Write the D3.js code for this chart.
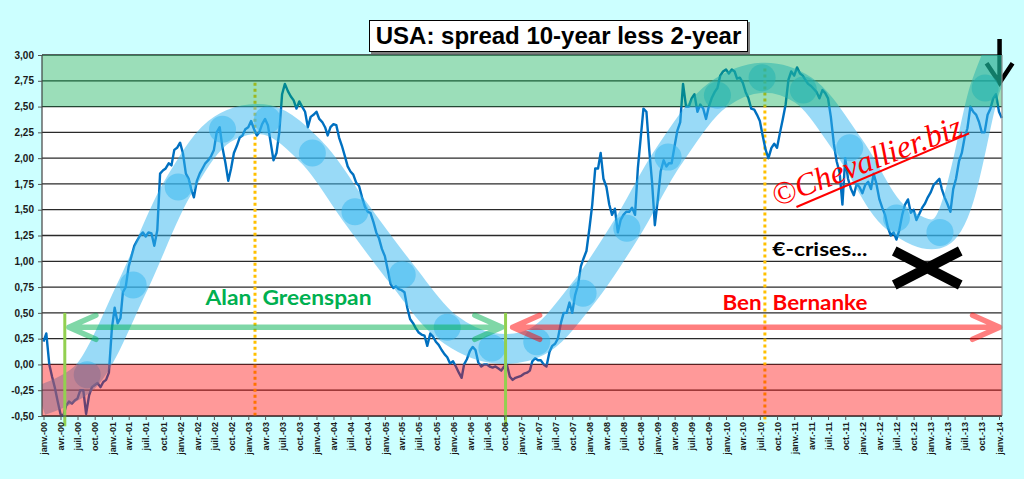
<!DOCTYPE html>
<html><head><meta charset="utf-8">
<script src="https://cdnjs.cloudflare.com/ajax/libs/d3/7.8.5/d3.min.js"></script>
<style>
html,body{margin:0;padding:0;background:#ccffff;}
svg{display:block;}
</style></head><body>
<svg id="chart" width="1024" height="479"></svg>
<script>
// ---------------- data ----------------
const title = "USA: spread 10-year less 2-year";
const monthLabels = ["janv.", "avr.", "juil.", "oct."];
const yTicks = [-0.5, -0.25, 0, 0.25, 0.5, 0.75, 1, 1.25, 1.5, 1.75, 2, 2.25, 2.5, 2.75, 3];
const years = [2000,2001,2002,2003,2004,2005,2006,2007,2008,2009,2010,2011,2012,2013,2014];
// semi-monthly readings (1st and 16th of each month), % points
const spread2000 = [0.22,0.30,0.00,-0.12,-0.22,-0.35,-0.48,-0.50,-0.40,-0.36,-0.38,-0.35,-0.33,-0.25,-0.25,-0.48,-0.30,-0.22,-0.20,-0.18,-0.22,-0.17,-0.15,-0.08];
const spread2001 = [0.35,0.55,0.40,0.45,0.70,0.75,0.95,1.05,1.15,1.20,1.25,1.28,1.24,1.28,1.27,1.15,1.30,1.85,1.88,1.90,1.95,1.93,2.08,2.10];
const spread2002 = [2.15,2.05,1.85,1.80,1.70,1.62,1.78,1.85,1.90,1.95,1.98,2.02,2.08,2.25,2.30,2.10,1.95,1.78,1.90,2.05,2.12,2.20,2.22,2.28];
const spread2003 = [2.30,2.36,2.28,2.22,2.25,2.33,2.38,2.32,2.15,1.98,2.05,2.25,2.62,2.72,2.65,2.60,2.56,2.48,2.55,2.50,2.45,2.30,2.40,2.42];
const spread2004 = [2.45,2.38,2.35,2.30,2.22,2.30,2.33,2.32,2.20,2.12,2.02,1.92,1.87,1.84,1.76,1.73,1.62,1.53,1.48,1.47,1.38,1.28,1.22,1.12];
const spread2005 = [1.05,0.92,0.78,0.74,0.76,0.73,0.72,0.70,0.55,0.44,0.40,0.35,0.31,0.29,0.28,0.18,0.30,0.27,0.22,0.19,0.14,0.10,0.07,0.01];
const spread2006 = [0.03,-0.02,-0.08,-0.13,0.00,0.05,0.13,0.17,0.14,0.02,-0.02,0.00,0.00,-0.02,-0.03,-0.02,-0.04,-0.06,-0.02,0.00,-0.12,-0.15,-0.13,-0.12];
const spread2007 = [-0.11,-0.09,-0.08,-0.06,0.03,0.06,0.04,0.04,0.00,-0.02,0.12,0.18,0.20,0.25,0.40,0.50,0.50,0.60,0.50,0.67,0.77,0.95,1.03,1.10];
const spread2008 = [1.32,1.55,1.90,1.90,2.05,1.80,1.72,1.55,1.45,1.51,1.28,1.40,1.45,1.48,1.48,1.52,1.45,1.90,2.19,2.48,2.45,2.08,1.77,1.35];
const spread2009 = [1.60,1.87,1.98,1.92,1.95,1.95,2.12,2.27,2.35,2.72,2.50,2.50,2.58,2.62,2.45,2.52,2.48,2.38,2.50,2.58,2.64,2.68,2.80,2.84];
const spread2010 = [2.86,2.82,2.86,2.84,2.77,2.78,2.73,2.64,2.58,2.48,2.47,2.42,2.36,2.22,2.08,2.00,2.10,2.14,2.10,2.24,2.38,2.52,2.76,2.84];
const spread2011 = [2.80,2.88,2.82,2.80,2.76,2.72,2.70,2.67,2.64,2.58,2.66,2.63,2.58,2.40,2.14,1.97,1.86,1.55,2.00,1.80,1.70,1.64,1.75,1.72];
const spread2012 = [1.66,1.74,1.77,1.70,1.85,1.75,1.60,1.52,1.45,1.33,1.25,1.28,1.21,1.30,1.45,1.55,1.60,1.47,1.50,1.40,1.46,1.52,1.56,1.62];
const spread2013 = [1.67,1.74,1.77,1.80,1.70,1.62,1.55,1.48,1.70,1.80,1.97,2.05,2.20,2.29,2.50,2.45,2.42,2.35,2.25,2.25,2.42,2.48,2.58,2.62];
const spread2014 = [2.45,2.39];
// hand-drawn wave annotation (date, value)
const waveDates = ["1999-12-15","2000-04-16","2000-08-22","2001-04-25","2001-12-22","2002-08-16","2003-04-13","2003-12-10","2004-07-25","2005-04-04","2005-12-01","2006-07-28","2007-03-25","2007-11-28","2008-07-19","2009-02-25","2009-11-16","2010-07-13","2011-02-19","2011-10-25","2012-07-01","2013-02-19","2013-10-19","2014-01-13"];
const waveValues = [-0.35,-0.26,-0.10,0.77,1.72,2.28,2.37,2.05,1.48,0.87,0.36,0.16,0.22,0.69,1.32,2.01,2.61,2.78,2.66,2.10,1.42,1.28,2.68,3.08];
// chairman periods & events
const chairNames = ["Alan\u00a0 Greenspan", "Ben\u00a0 Bernanke"];
const chairArrowDates = [["2000-05-16","2006-09-19"],["2006-11-16","2014-01-04"]];
const chairLabelDates = ["2002-05-17","2009-12-13"];
const chairLabelValues = [0.576, 0.528];
const chairArrowValue = 0.36;
const chairChangeDates = ["2000-04-24","2006-10-09"];
const eventDates = ["2003-02-06","2010-07-28"];
const euroCrisisLabel = "€-crises...";
const euroCrisisDate = "2010-09-06", euroCrisisValue = 1.051;
const crossDate = "2012-12-13", crossValue = 0.935;
const downArrowDate = "2014-01-04";
const watermark = "©Chevallier.biz";
const watermarkDate = "2010-09-28", watermarkValue = 1.526;
const underlineDates = ["2011-01-13","2013-07-25"], underlineValues = [1.526, 2.24];

// ---------------- setup ----------------
const parse = d3.timeParse("%Y-%m-%d");
const svg = d3.select("#chart");
const L = 42, R = 1002, T = 55, B = 416;
const x = d3.scaleTime().domain([new Date(2000,0,1), new Date(2014,0,1)]).range([43.5, 999]);
const y = d3.scaleLinear().domain([-0.5, 3]).range([B, T]);
const locale = d3.formatLocale({decimal: ",", thousands: " ", grouping: [3], currency: ["", "€"], minus: "-"});
const fmt = locale.format(".2f");

const seriesByYear = [spread2000,spread2001,spread2002,spread2003,spread2004,spread2005,spread2006,spread2007,spread2008,spread2009,spread2010,spread2011,spread2012,spread2013,spread2014];
const points = [];
seriesByYear.forEach((vals, yi) => vals.forEach((v, i) => points.push({date: new Date(years[yi], Math.floor(i/2), i % 2 ? 16 : 1), value: v})));
const wave = waveDates.map((d, i) => ({date: parse(d), value: waveValues[i]}));

svg.append("rect").attr("width", 1024).attr("height", 479).attr("fill", "#ccffff");
svg.append("defs").append("clipPath").attr("id", "plotclip").append("rect")
  .attr("x", L).attr("y", T).attr("width", R - L).attr("height", B - T);
svg.append("rect").attr("x", L).attr("y", T).attr("width", R - L).attr("height", B - T).attr("fill", "#ffffff");

// grid
svg.append("g").selectAll("line").data(yTicks).join("line")
  .attr("x1", L).attr("x2", R).attr("y1", d => y(d)).attr("y2", d => y(d))
  .attr("stroke", "#2a2a2a").attr("stroke-width", 1.3);

// event dotted lines (under overlays)
svg.append("line").attr("x1", x(parse(eventDates[0]))).attr("x2", x(parse(eventDates[0])))
  .attr("y1", y(2.73)).attr("y2", y(-0.5)).attr("stroke", "#ffc000").attr("stroke-width", 3).attr("stroke-dasharray", "3,3");
svg.append("line").attr("x1", x(parse(eventDates[1]))).attr("x2", x(parse(eventDates[1])))
  .attr("y1", y(2.87)).attr("y2", y(-0.57)).attr("stroke", "#ffc000").attr("stroke-width", 3).attr("stroke-dasharray", "3,3");

// down arrow top right
const ax = x(parse(downArrowDate));
svg.append("path")
  .attr("d", `M${ax},${y(3.155)}L${ax},${y(2.73)}M${ax-13},${y(2.92)}L${ax},${y(2.73)}L${ax+13},${y(2.92)}`)
  .attr("fill", "none").attr("stroke", "#000").attr("stroke-width", 4.5);

// series line
svg.append("path").datum(points)
  .attr("d", d3.line().x(d => x(d.date)).y(d => y(d.value)))
  .attr("fill", "none").attr("stroke", "#0070c0").attr("stroke-width", 2.4).attr("stroke-linejoin", "round");

// wave band
const gw = svg.append("g").attr("clip-path", "url(#plotclip)");
gw.append("path").datum(wave)
  .attr("d", d3.line().x(d => x(d.date)).y(d => y(d.value)).curve(d3.curveCatmullRom.alpha(0.5)))
  .attr("fill", "none").attr("stroke", "rgba(51,181,240,0.5)").attr("stroke-width", 30);
gw.selectAll("circle").data(wave.slice(2, -1)).join("circle")
  .attr("cx", d => x(d.date)).attr("cy", d => y(d.value)).attr("r", 13.5)
  .attr("fill", "rgba(51,181,240,0.5)");

// zones
svg.append("rect").attr("x", L).attr("y", y(3)).attr("width", R - L).attr("height", y(2.5) - y(3)).attr("fill", "rgba(5,172,80,0.4)");
svg.append("rect").attr("x", L).attr("y", y(0)).attr("width", R - L).attr("height", y(-0.5) - y(0)).attr("fill", "rgba(255,0,0,0.4)");

// chairman arrows
const arrowColors = ["rgb(0,176,80)", "rgb(255,0,0)"];
chairArrowDates.forEach((pair, i) => {
  const x1 = x(parse(pair[0])), x2 = x(parse(pair[1])), yy = y(chairArrowValue);
  const g = svg.append("g").attr("opacity", 0.5);
  g.append("path")
    .attr("d", `M${x1+27},${yy-12}L${x1},${yy}L${x1+27},${yy+12}M${x1},${yy}L${x2},${yy}M${x2-27},${yy-12}L${x2},${yy}L${x2-27},${yy+12}`)
    .attr("fill", "none").attr("stroke", arrowColors[i]).attr("stroke-width", 5.5)
    .attr("stroke-linecap", "round").attr("stroke-linejoin", "round");
});

// chairman change lines
chairChangeDates.forEach(d => {
  svg.append("line").attr("x1", x(parse(d))).attr("x2", x(parse(d)))
    .attr("y1", y(0.5)).attr("y2", y(-0.6)).attr("stroke", "#92d050").attr("stroke-width", 3);
});

// frame
svg.append("line").attr("x1", L).attr("x2", L).attr("y1", T).attr("y2", B).attr("stroke", "#404040").attr("stroke-width", 1.2);
svg.append("line").attr("x1", R).attr("x2", R).attr("y1", T).attr("y2", B).attr("stroke", "#8c8c8c").attr("stroke-width", 1.2);
svg.append("line").attr("x1", L).attr("x2", R).attr("y1", B).attr("y2", B).attr("stroke", "#404040").attr("stroke-width", 1.2);

// axes
const quarterDates = d3.timeMonth.every(3).range(new Date(2000,0,1), new Date(2014,0,2));
const xAxis = d3.axisBottom(x).tickValues(quarterDates).tickSize(4).tickSizeOuter(0)
  .tickFormat(d => monthLabels[d.getMonth() / 3] + "-" + String(d.getFullYear()).slice(2));
const gx = svg.append("g").attr("transform", `translate(0,${B})`).call(xAxis);
gx.select(".domain").remove();
gx.selectAll(".tick line").attr("stroke", "#555");
gx.selectAll(".tick text")
  .attr("transform", "rotate(-90)").attr("text-anchor", "end")
  .attr("x", -6).attr("y", 0).attr("dy", "0.35em")
  .attr("font-family", "Liberation Sans, Arial, sans-serif").attr("font-weight", "bold")
  .attr("font-size", 9).attr("fill", "#1a1a1a");

const yAxis = d3.axisLeft(y).tickValues(yTicks).tickSize(4).tickPadding(4).tickFormat(fmt);
const gy = svg.append("g").attr("transform", `translate(${L},0)`).call(yAxis);
gy.select(".domain").remove();
gy.selectAll(".tick line").attr("stroke", "#555");
gy.selectAll(".tick text").attr("font-family", "Liberation Sans, Arial, sans-serif")
  .attr("font-weight", "bold").attr("font-size", 10).attr("fill", "#1a1a1a");

// labels
const labelColors = ["#00b050", "#ff0000"];
const labelWidths = [166, 145];
chairNames.forEach((t, i) => {
  svg.append("text").attr("x", x(parse(chairLabelDates[i]))).attr("y", y(chairLabelValues[i]))
    .attr("font-family", "Lato, 'Open Sans', sans-serif").attr("font-weight", "bold").attr("font-size", 21)
    .attr("fill", labelColors[i]).attr("textLength", labelWidths[i]).attr("lengthAdjust", "spacingAndGlyphs")
    .style("white-space", "pre").text(t);
});
svg.append("text").attr("x", x(parse(euroCrisisDate))).attr("y", y(euroCrisisValue))
  .attr("font-family", "Lato, 'Open Sans', sans-serif").attr("font-weight", "bold").attr("font-size", 19)
  .attr("fill", "#000").attr("textLength", 95).attr("lengthAdjust", "spacingAndGlyphs").text(euroCrisisLabel);

// cross
const cx = x(parse(crossDate)), cy = y(crossValue);
svg.append("path").attr("d", `M${cx-33},${cy-17}L${cx+33},${cy+17}M${cx-33},${cy+17}L${cx+33},${cy-17}`)
  .attr("stroke", "#000").attr("stroke-width", 10).attr("fill", "none");

// watermark
const wx = x(parse(watermarkDate)), wy = y(watermarkValue);
svg.append("text").attr("x", wx).attr("y", wy).attr("transform", `rotate(-21,${wx},${wy})`)
  .attr("font-family", "Liberation Serif, serif").attr("font-style", "italic").attr("font-size", 32)
  .attr("fill", "#ff0000").text(watermark);
svg.append("line")
  .attr("x1", x(parse(underlineDates[0]))).attr("y1", y(underlineValues[0]))
  .attr("x2", x(parse(underlineDates[1]))).attr("y2", y(underlineValues[1]))
  .attr("stroke", "#ff0000").attr("stroke-width", 2);

// title
svg.append("rect").attr("x", 371).attr("y", 22).attr("width", 379).attr("height", 32).attr("fill", "#7f7f7f");
svg.append("rect").attr("x", 369.5).attr("y", 20.5).attr("width", 378).attr("height", 31).attr("fill", "#fff").attr("stroke", "#000").attr("stroke-width", 1);
svg.append("text").attr("x", 558.5).attr("y", 43.5).attr("text-anchor", "middle")
  .attr("font-family", "Liberation Sans, Arial, sans-serif").attr("font-weight", "bold").attr("font-size", 24)
  .attr("fill", "#000").text(title);
</script>
</body></html>
